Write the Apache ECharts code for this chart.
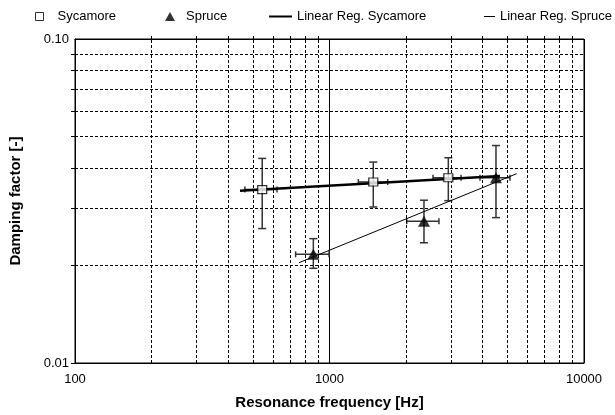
<!DOCTYPE html>
<html>
<head>
<meta charset="utf-8">
<script src="https://cdn.jsdelivr.net/npm/echarts@6/dist/echarts.min.js"></script>
<style>
  html, body { margin: 0; padding: 0; background: #fff; }
  #chart { width: 615px; height: 415px; }
</style>
</head>
<body>
<div id="chart"></div>
<script>
// sycamore measurements
var sycFreq = [544, 1486, 2930]
var sycFreqLow = [465, 1298, 2551]
var sycFreqHigh = [622, 1693, 3287]
var sycDamp = [0.0343, 0.0362, 0.0373]
var sycDampLow = [0.0260, 0.0303, 0.0317]
var sycDampHigh = [0.0428, 0.0417, 0.0430]

// spruce measurements
var spruceFreq = [864, 2351, 4510]
var spruceFreqLow = [736, 2011, 3902]
var spruceFreqHigh = [996, 2692, 5120]
var spruceDamp = [0.02165, 0.0274, 0.0373]
var spruceDampLow = [0.0196, 0.0235, 0.0281]
var spruceDampHigh = [0.0242, 0.0318, 0.0469]

// regression line end points
var sycRegFreq = [445, 4677]
var sycRegDamp = [0.0340, 0.0378]
var spruceRegFreq = [759, 5440]
var spruceRegDamp = [0.0204, 0.0384]

// minor grid values
var xGrid = [200, 300, 400, 500, 600, 700, 800, 900, 2000, 3000, 4000, 5000, 6000, 7000, 8000, 9000]
var yGrid = [0.02, 0.03, 0.04, 0.05, 0.06, 0.07, 0.08, 0.09]
var yTicks = [0.01].concat(yGrid).concat([0.1])

var font = "'Liberation Sans', Arial, sans-serif"

function zip(a, b) {
  return a.map(function (v, i) { return [v, b[i]] })
}

function errRows(x, xl, xh, y, yl, yh) {
  return x.map(function (v, i) { return [v, y[i], xl[i], xh[i], yl[i], yh[i]] })
}

function renderErrorBar(params, api) {
  var x = api.value(0)
  var y = api.value(1)
  var left = api.coord([api.value(2), y])
  var right = api.coord([api.value(3), y])
  var low = api.coord([x, api.value(4)])
  var high = api.coord([x, api.value(5)])
  var capW = 4
  var capH = 3
  var style = { stroke: '#333', lineWidth: 1.5, fill: null }
  var seg = function (x1, y1, x2, y2) {
    return { type: 'line', shape: { x1: x1, y1: y1, x2: x2, y2: y2 }, style: style }
  }
  return {
    type: 'group',
    children: [
      seg(low[0], low[1], high[0], high[1]),
      seg(low[0] - capW, low[1], low[0] + capW, low[1]),
      seg(high[0] - capW, high[1], high[0] + capW, high[1]),
      seg(left[0], left[1], right[0], right[1]),
      seg(left[0], left[1] - capH, left[0], left[1] + capH),
      seg(right[0], right[1] - capH, right[0], right[1] + capH)
    ]
  }
}

var chart = echarts.init(document.getElementById('chart'))

var legendText = { fontFamily: font, fontSize: 13, color: '#000' }
var legendBase = {
  top: 10,
  padding: 0,
  textStyle: legendText,
  selectedMode: false
}

var option = {
  animation: false,
  backgroundColor: '#fff',
  legend: [
    Object.assign({}, legendBase, {
      left: 35, itemWidth: 8, itemHeight: 8,
      data: [{ name: 'Sycamore', icon: 'rect', itemStyle: { color: '#fff', borderColor: '#000', borderWidth: 1 } }],
      textStyle: Object.assign({}, legendText, { padding: [0, 0, 0, 9] })
    }),
    Object.assign({}, legendBase, {
      left: 165, itemWidth: 10, itemHeight: 9,
      data: [{ name: 'Spruce', icon: 'triangle' }],
      textStyle: Object.assign({}, legendText, { padding: [0, 0, 0, 6] })
    }),
    Object.assign({}, legendBase, {
      left: 269, itemWidth: 23, itemHeight: 2,
      data: [{ name: 'Linear Reg. Sycamore', icon: 'rect' }]
    }),
    Object.assign({}, legendBase, {
      left: 484, itemWidth: 11, itemHeight: 1,
      data: [{ name: 'Linear Reg. Spruce', icon: 'rect' }]
    })
  ],
  grid: {
    left: 75, right: 31, top: 39, bottom: 51,
    show: true, borderColor: '#000', borderWidth: 1
  },
  xAxis: [{
    type: 'log',
    logBase: 10,
    min: 100,
    max: 10000,
    name: 'Resonance frequency [Hz]',
    nameLocation: 'middle',
    nameGap: 32,
    nameTextStyle: { fontFamily: font, fontWeight: 'bold', fontSize: 15, color: '#000' },
    axisLine: { lineStyle: { color: '#000', width: 1 } },
    axisTick: { show: false },
    axisLabel: {
      fontFamily: font, fontSize: 13, color: '#000', margin: 10,
      formatter: function (v) { return String(Math.round(v)) }
    },
    splitLine: { show: true, lineStyle: { color: '#000', width: 1 } },
    minorTick: { show: false },
    minorSplitLine: { show: false }
  }, {
    type: 'log',
    logBase: 10,
    min: 100,
    max: 10000,
    position: 'top',
    axisLine: { lineStyle: { color: '#000', width: 1 } },
    axisTick: { show: true, length: 3, customValues: xGrid, lineStyle: { color: '#000' } },
    axisLabel: { show: false },
    splitLine: { show: false }
  }],
  yAxis: {
    type: 'log',
    logBase: 10,
    min: 0.01,
    max: 0.1,
    name: 'Damping factor [-]',
    nameLocation: 'middle',
    nameRotate: 90,
    nameGap: 52,
    nameTextStyle: { fontFamily: font, fontWeight: 'bold', fontSize: 15, color: '#000' },
    axisLine: { show: true, lineStyle: { color: '#000', width: 1 } },
    axisTick: { show: true, length: 4, customValues: yTicks, lineStyle: { color: '#000' } },
    axisLabel: {
      fontFamily: font, fontSize: 13, color: '#000', margin: 6,
      formatter: function (v) { return v.toFixed(2) }
    },
    splitLine: { show: false }
  },
  series: [
    {
      name: 'grid',
      type: 'line',
      data: [],
      silent: true,
      markLine: {
        silent: true,
        symbol: 'none',
        label: { show: false },
        animation: false,
        lineStyle: { color: '#000', width: 1, type: [3, 2] },
        data: xGrid.map(function (v) { return { xAxis: v } })
          .concat(yGrid.map(function (v) { return { yAxis: v } }))
      }
    },
    {
      name: 'sycErr',
      type: 'custom',
      z: 3,
      renderItem: renderErrorBar,
      encode: { x: 0, y: 1 },
      data: errRows(sycFreq, sycFreqLow, sycFreqHigh, sycDamp, sycDampLow, sycDampHigh)
    },
    {
      name: 'spruceErr',
      type: 'custom',
      z: 3,
      renderItem: renderErrorBar,
      encode: { x: 0, y: 1 },
      data: errRows(spruceFreq, spruceFreqLow, spruceFreqHigh, spruceDamp, spruceDampLow, spruceDampHigh)
    },
    {
      name: 'Linear Reg. Sycamore',
      type: 'line',
      z: 4,
      showSymbol: false,
      symbol: 'none',
      color: '#000',
      lineStyle: { color: '#000', width: 2.5 },
      data: zip(sycRegFreq, sycRegDamp)
    },
    {
      name: 'Linear Reg. Spruce',
      type: 'line',
      z: 4,
      showSymbol: false,
      symbol: 'none',
      color: '#000',
      lineStyle: { color: '#000', width: 1 },
      data: zip(spruceRegFreq, spruceRegDamp)
    },
    {
      name: 'Sycamore',
      type: 'scatter',
      z: 5,
      symbol: 'rect',
      symbolSize: [9, 8],
      itemStyle: { color: '#fff', borderColor: '#000', borderWidth: 1.2 },
      data: zip(sycFreq, sycDamp)
    },
    {
      name: 'Spruce',
      type: 'scatter',
      z: 5,
      symbol: 'triangle',
      symbolSize: [12, 11],
      itemStyle: { color: '#000' },
      data: zip(spruceFreq, spruceDamp)
    }
  ]
}

chart.setOption(option)
</script>
</body>
</html>
